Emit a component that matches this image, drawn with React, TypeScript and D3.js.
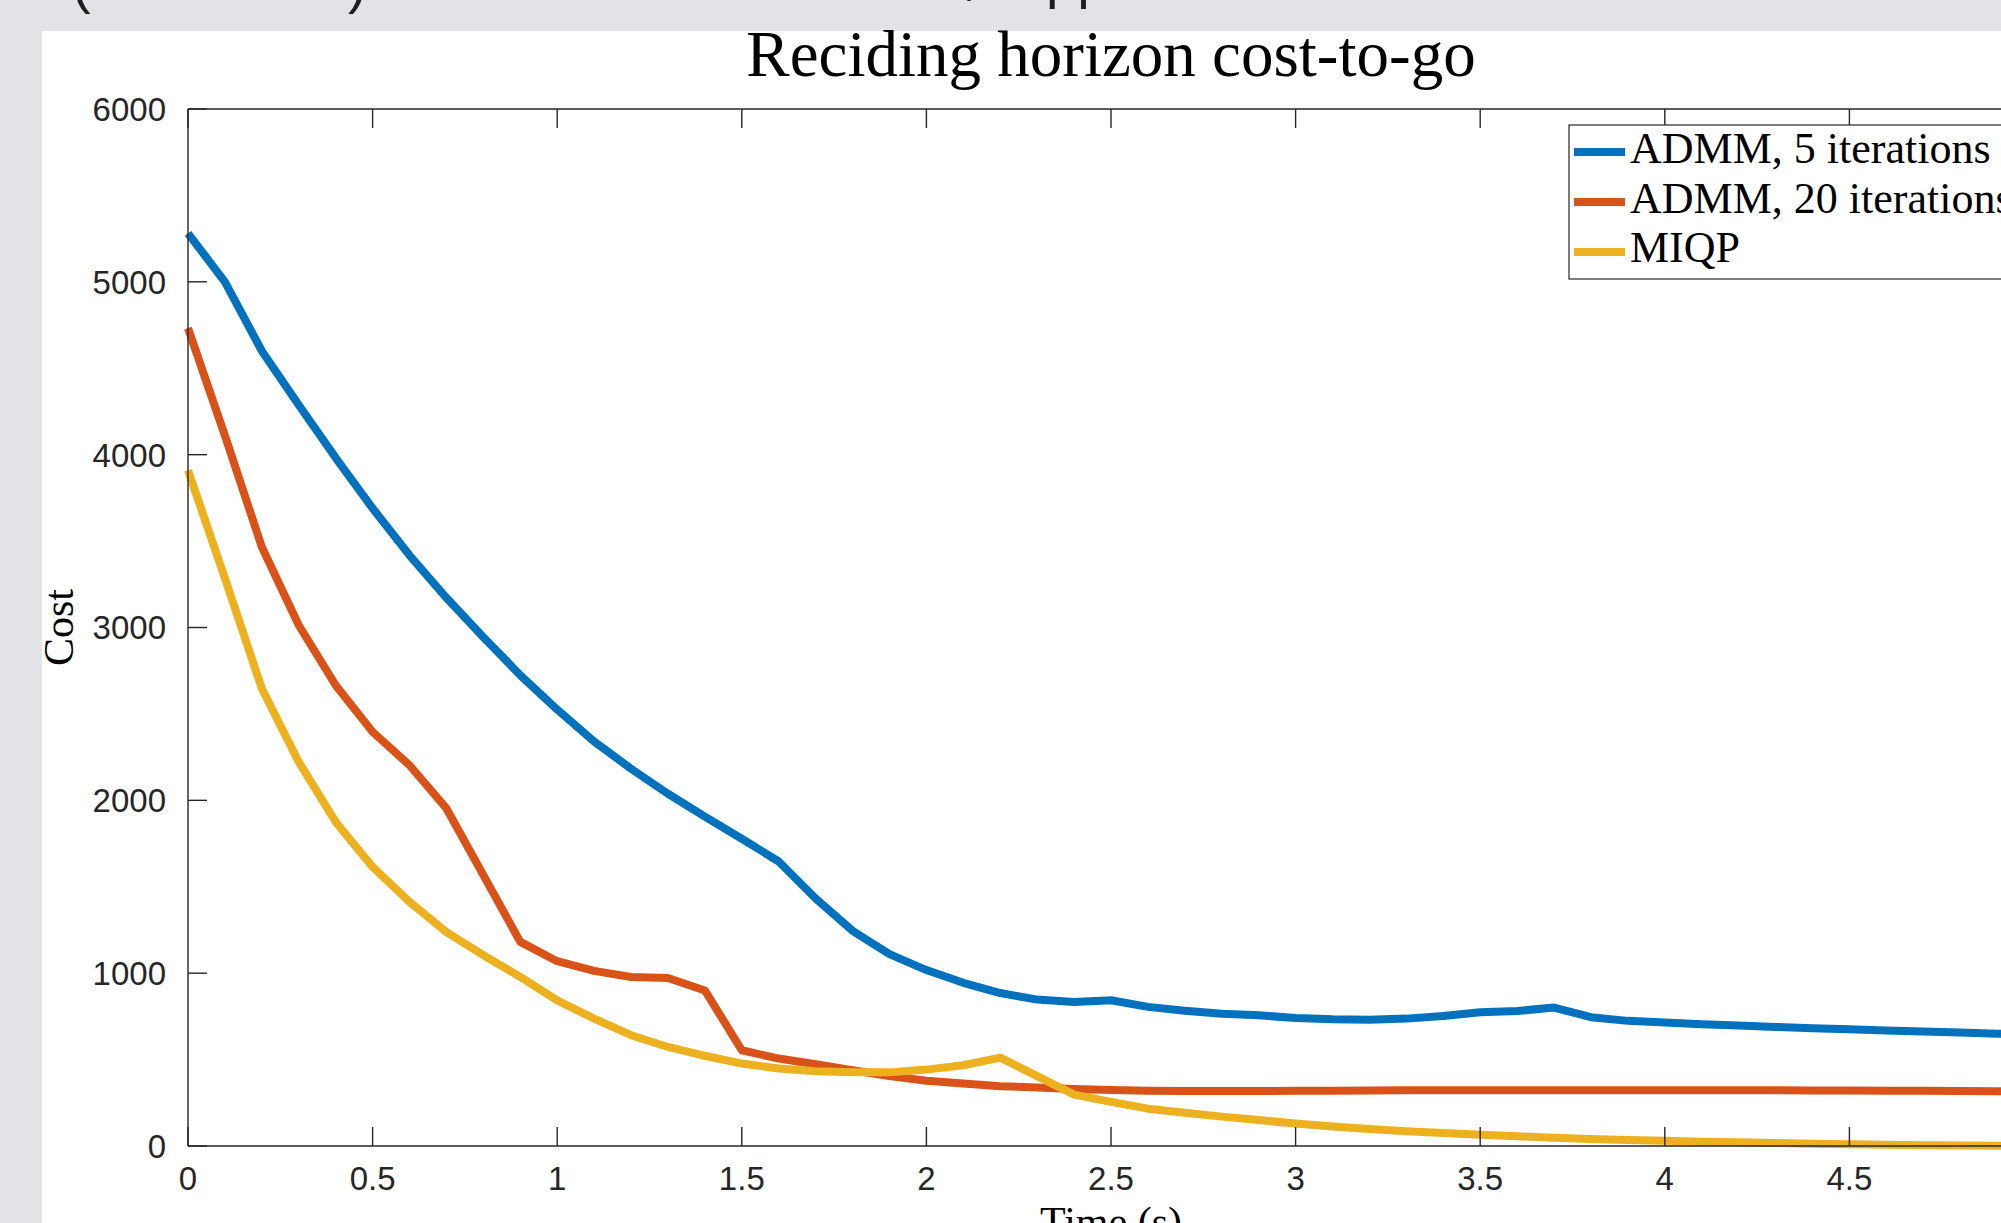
import * as d3 from "d3";

// time samples (s)
const time = [
  0, 0.1, 0.2, 0.3, 0.4, 0.5, 0.6, 0.7, 0.8, 0.9,
  1.0, 1.1, 1.2, 1.3, 1.4, 1.5, 1.6, 1.7, 1.8, 1.9,
  2.0, 2.1, 2.2, 2.3, 2.4, 2.5, 2.6, 2.7, 2.8, 2.9,
  3.0, 3.1, 3.2, 3.3, 3.4, 3.5, 3.6, 3.7, 3.8, 3.9,
  4.0, 4.1, 4.2, 4.3, 4.4, 4.5, 4.6, 4.7, 4.8, 4.9, 5.0,
];

const admm5 = [
  5280, 5000, 4600, 4288, 3982, 3690, 3418, 3172, 2944, 2724,
  2525, 2340, 2183, 2038, 1906, 1778, 1646, 1432, 1245, 1110,
  1018, 944, 885, 847, 833, 843, 805, 782, 765, 756,
  741, 733, 731, 737, 752, 774, 781, 801, 745, 724,
  714, 704, 697, 689, 682, 675, 668, 662, 656, 650, 645,
];

const admm20 = [
  4732, 4110, 3466, 3013, 2666, 2396, 2203, 1953, 1567, 1181,
  1069, 1013, 978, 972, 900, 554, 506, 473, 438, 405,
  378, 361, 346, 338, 330, 324, 320, 318, 318, 318,
  319, 320, 321, 322, 322, 323, 323, 323, 323, 323,
  323, 323, 322, 322, 321, 321, 320, 319, 318, 317, 316,
];

const miqp = [
  3910, 3285, 2647, 2222, 1875, 1615, 1412, 1238, 1104, 978,
  843, 737, 641, 573, 522, 477, 448, 432, 426, 426,
  442, 467, 511, 404, 297, 255, 216, 192, 170, 150,
  130, 113, 98, 86, 75, 65, 56, 48, 41, 35,
  30, 25, 21, 17, 13, 10, 7, 5, 3, 2, 1,
];

const seriesNames = ["ADMM, 5 iterations", "ADMM, 20 iterations", "MIQP"];
const seriesColors = ["#0072BD", "#D95319", "#EDB120"];
const xTicks = [0, 0.5, 1, 1.5, 2, 2.5, 3, 3.5, 4, 4.5, 5];
const yTicks = [0, 1000, 2000, 3000, 4000, 5000, 6000];

const W = 2001;
const H = 1223;
const PLOT = { left: 188, right: 2034, top: 109, bottom: 1146 };
const TICK_LEN = 19;
const AXIS_COLOR = "#262626";
const SANS = "'Liberation Sans', Arial, Helvetica, sans-serif";
const SERIF = "'Liberation Serif', 'Times New Roman', serif";

export default function App() {
  const x = d3.scaleLinear().domain([0, 5]).range([PLOT.left, PLOT.right]);
  const y = d3.scaleLinear().domain([0, 6000]).range([PLOT.bottom, PLOT.top]);

  const line = d3
    .line<number>()
    .x((_, i) => x(time[i]))
    .y((d) => y(d));

  const allSeries = [admm5, admm20, miqp];
  const titleX = (PLOT.left + PLOT.right) / 2;

  return (
    <svg
      width={W}
      height={H}
      style={{ position: "fixed", left: 0, top: 0, display: "block" }}
    >
      {/* slide background around the figure */}
      <rect x={0} y={0} width={W} height={H} fill="#e2e3e7" />
      <g fill="#1e1e1e" fontFamily={SANS} fontSize={56}>
        <text x={72} y={2}>(</text>
        <text x={348} y={2}>)</text>
        <text x={962} y={-6}>,</text>
        <text x={1046} y={-3}>pp</text>
      </g>
      <rect x={42} y={31} width={W - 42} height={H - 31} fill="#ffffff" />

      {/* title */}
      <text
        x={titleX}
        y={76}
        textAnchor="middle"
        fontFamily={SERIF}
        fontSize={65}
        fill="#000"
      >
        Reciding horizon cost-to-go
      </text>

      {/* series */}
      {allSeries.map((s, i) => (
        <path
          key={seriesNames[i]}
          d={line(s) ?? ""}
          fill="none"
          stroke={seriesColors[i]}
          strokeWidth={8}
          strokeLinejoin="round"
        />
      ))}

      {/* axes box */}
      <g stroke={AXIS_COLOR} strokeWidth={1.4} fill="none">
        <line x1={PLOT.left} x2={PLOT.right} y1={PLOT.bottom} y2={PLOT.bottom} />
        <line x1={PLOT.left} x2={PLOT.right} y1={PLOT.top} y2={PLOT.top} />
        <line x1={PLOT.left} x2={PLOT.left} y1={PLOT.top} y2={PLOT.bottom} />
        <line x1={PLOT.right} x2={PLOT.right} y1={PLOT.top} y2={PLOT.bottom} />
        {xTicks.map((t) => (
          <g key={"xt" + t}>
            <line x1={x(t)} x2={x(t)} y1={PLOT.bottom} y2={PLOT.bottom - TICK_LEN} />
            <line x1={x(t)} x2={x(t)} y1={PLOT.top} y2={PLOT.top + TICK_LEN} />
          </g>
        ))}
        {yTicks.map((v) => (
          <g key={"yt" + v}>
            <line x1={PLOT.left} x2={PLOT.left + TICK_LEN} y1={y(v)} y2={y(v)} />
            <line x1={PLOT.right} x2={PLOT.right - TICK_LEN} y1={y(v)} y2={y(v)} />
          </g>
        ))}
      </g>

      {/* tick labels */}
      <g fontFamily={SANS} fontSize={33} fill={AXIS_COLOR}>
        {xTicks.map((t) => (
          <text key={"xl" + t} x={x(t)} y={1190} textAnchor="middle">
            {String(t)}
          </text>
        ))}
        {yTicks.map((v) => (
          <text key={"yl" + v} x={166} y={y(v)} dy="0.36em" textAnchor="end">
            {String(v)}
          </text>
        ))}
      </g>

      {/* axis labels */}
      <text
        x={titleX}
        y={1236}
        textAnchor="middle"
        fontFamily={SERIF}
        fontSize={42}
        fill="#000"
      >
        Time (s)
      </text>
      <text
        transform={`translate(73, ${(PLOT.top + PLOT.bottom) / 2}) rotate(-90)`}
        textAnchor="middle"
        fontFamily={SERIF}
        fontSize={42}
        fill="#000"
      >
        Cost
      </text>

      {/* legend */}
      <g>
        <rect
          x={1569}
          y={125}
          width={460}
          height={154}
          fill="#ffffff"
          stroke={AXIS_COLOR}
          strokeWidth={1.2}
        />
        {seriesNames.map((name, i) => (
          <g key={"lg" + name}>
            <line
              x1={1574}
              x2={1625}
              y1={152 + i * 50}
              y2={152 + i * 50}
              stroke={seriesColors[i]}
              strokeWidth={8}
            />
            <text
              x={1630}
              y={163 + i * 49.5}
              fontFamily={SERIF}
              fontSize={44}
              fill="#000"
            >
              {name}
            </text>
          </g>
        ))}
      </g>
    </svg>
  );
}
